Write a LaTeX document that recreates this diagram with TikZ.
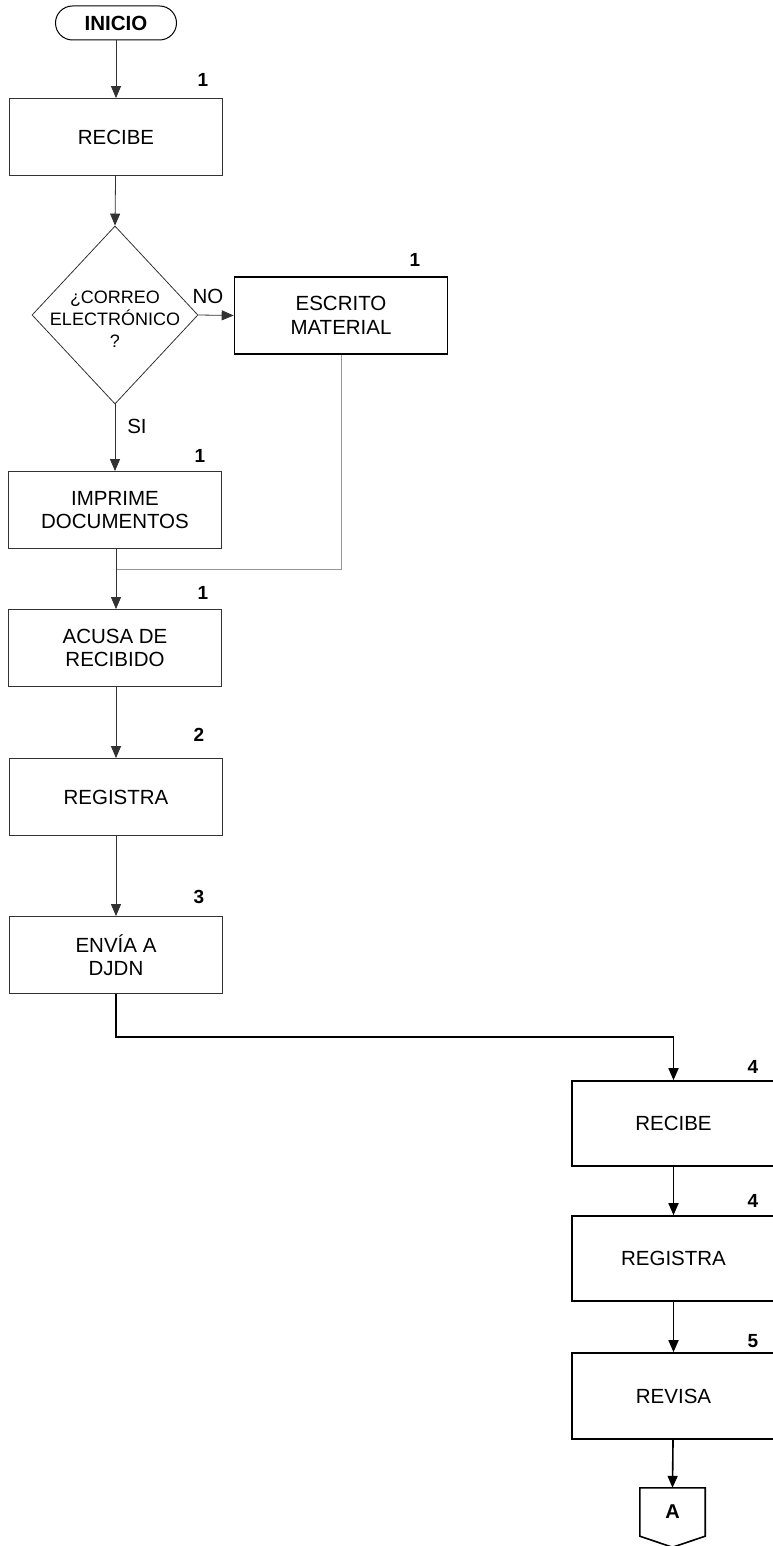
\documentclass[tikz,border=0pt]{standalone}
\usepackage{fontspec}
\setmainfont{Liberation Sans}
\usetikzlibrary{arrows.meta,shapes.geometric}

\begin{document}
\begin{tikzpicture}[x=1pt,y=-1pt,
  box/.style={draw=linegray, line width=0.8pt, minimum width=213pt, minimum height=77pt, inner sep=0pt, align=center, font=\fontsize{20.5}{23.5}\selectfont},
  boxthick/.style={box, draw=black, line width=1.6pt},
  num/.style={font=\fontsize{19}{21}\selectfont\bfseries},
  flow/.style={draw=linegray, line width=0.8pt, -{Triangle[length=12pt,width=10pt]}},
  flowthick/.style={flow, draw=black, line width=1.6pt}]
% Define colors
\definecolor{linegray}{RGB}{50,50,50}
\definecolor{joingray}{RGB}{150,150,150}

% Page size
\useasboundingbox (0,0) rectangle (772,1546);

% Start
\node[draw=black, line width=1pt, rounded corners=17pt, minimum width=121pt, minimum height=34pt, font=\fontsize{20.5}{23}\selectfont\bfseries] (inicio) at (116,23) {INICIO};

% Left column
\node[box] (recibeA) at (116,137) {RECIBE};
\node[draw=linegray, line width=0.8pt, shape=diamond, minimum width=166pt, minimum height=178pt, inner sep=0pt] (correo) at (115,315) {};
\node[align=center, font=\fontsize{18}{22}\selectfont] (correoTxt) at (115,319) {¿CORREO\\ELECTRÓNICO\\?};
\node[boxthick] (escrito) at (341,315.5) {ESCRITO\\MATERIAL};
\node[box] (imprime) at (115,510) {IMPRIME\\DOCUMENTOS};
\node[box] (acusa) at (115,648) {ACUSA DE\\RECIBIDO};
\node[box] (registraA) at (116,797) {REGISTRA};
\node[box] (envia) at (116,955) {ENVÍA A\\DJDN};

% Right column
\node[boxthick, minimum width=203pt, minimum height=85pt] (recibeB) at (673.5,1123.5) {RECIBE};
\node[boxthick, minimum width=203pt, minimum height=85pt] (registraB) at (673.5,1258.5) {REGISTRA};
\node[boxthick, minimum width=203pt, minimum height=86pt] (revisa) at (673.5,1396) {REVISA};
\node[minimum width=65pt, minimum height=48pt, inner sep=0pt, font=\fontsize{20}{22}\selectfont\bfseries] (conA) at (672.5,1512) {A};
\draw[line width=1.6pt, line join=miter] (conA.north west) -- (conA.north east) -- (conA.south east) -- ([yshift=-11pt]conA.south) -- (conA.south west) -- cycle;

% Step numbers
\node[num] (n1a) at (203,80) {1};
\node[num] (n1b) at (415,260) {1};
\node[num] (n1c) at (200,456) {1};
\node[num] (n1d) at (203,593) {1};
\node[num] (n2) at (199,735) {2};
\node[num] (n3) at (199,897) {3};
\node[num] (n4a) at (753,1067) {4};
\node[num] (n4b) at (753,1201) {4};
\node[num] (n5) at (753,1341) {5};

% Answers
\node[font=\fontsize{20.5}{23}\selectfont] (no) at (208,296) {NO};
\node[font=\fontsize{20.5}{23}\selectfont] (si) at (137,426) {SI};

% Connectors
\coordinate (join) at (116,569);
\coordinate (turn) at (673.5,1037);
\draw[flow] (inicio) -- (recibeA);
\draw[flow] (recibeA) -- (correo.north);
\draw[flow] (correo.east) -- (escrito.west);
\draw[flow] (correo.south) -- (imprime.north -| correo.south);
\draw[draw=joingray, line width=0.8pt] (escrito.south) |- (join);
\draw[draw=linegray, line width=0.8pt] (imprime.south -| join) -- (join);
\draw[flow] (join) -- (acusa.north -| join);
\draw[flow] (acusa.south -| join) -- (registraA.north -| join);
\draw[flow] (registraA.south -| join) -- (envia.north -| join);
\draw[flowthick] (envia.south -| join) |- (turn) -- (recibeB.north);
\draw[flowthick] (recibeB) -- (registraB);
\draw[flowthick] (registraB) -- (revisa);
\draw[flowthick] (revisa) -- (conA.north);

\end{tikzpicture}
\end{document}
